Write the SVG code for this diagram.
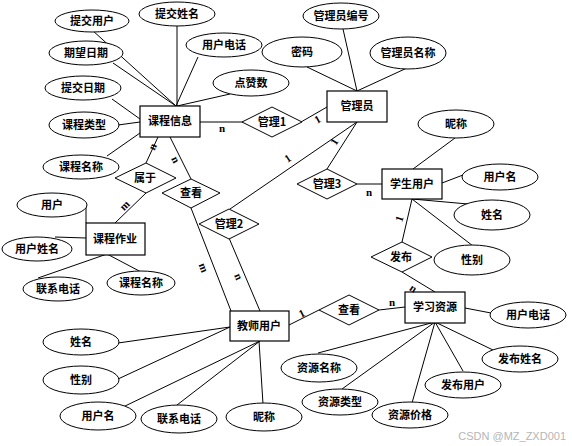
<svg xmlns="http://www.w3.org/2000/svg" width="572" height="446" viewBox="0 0 572 446">
<style>
.e{fill:#fff;stroke:#000;stroke-width:1}
.r{fill:#fff;stroke:#000;stroke-width:1.2}
.d{fill:#fff;stroke:#000;stroke-width:1}
.t{font-family:"Noto Sans CJK SC","Noto Sans",sans-serif;font-size:11px;font-weight:bold;text-anchor:middle;fill:#000}
.c{font-family:"Liberation Serif",serif;font-size:11px;font-weight:bold;text-anchor:middle;fill:#000}
#conn line{stroke:#000;stroke-width:1}
</style>
<rect width="572" height="446" fill="#fff"/>
<g id="conn">
<line x1="92" y1="30" x2="176" y2="106"/>
<line x1="177" y1="26" x2="177" y2="106"/>
<line x1="198" y1="57" x2="176" y2="106"/>
<line x1="230" y1="94" x2="177" y2="106"/>
<line x1="113" y1="63" x2="176" y2="106"/>
<line x1="112" y1="99" x2="140" y2="119"/>
<line x1="118" y1="125" x2="140" y2="122"/>
<line x1="107" y1="156" x2="140" y2="133"/>
<line x1="200" y1="122" x2="243" y2="122"/>
<line x1="301" y1="122" x2="327" y2="107"/>
<line x1="158" y1="137" x2="146" y2="163"/>
<line x1="170" y1="137" x2="191" y2="179"/>
<line x1="146" y1="193" x2="115" y2="223"/>
<line x1="191" y1="208" x2="231" y2="311"/>
<line x1="229" y1="238" x2="260" y2="311"/>
<line x1="357" y1="122" x2="230" y2="209"/>
<line x1="357" y1="122" x2="327" y2="169"/>
<line x1="343" y1="29" x2="357" y2="91"/>
<line x1="307" y1="67" x2="357" y2="91"/>
<line x1="407" y1="68" x2="357" y2="91"/>
<line x1="357" y1="184" x2="382" y2="184"/>
<line x1="455" y1="138" x2="413" y2="169"/>
<line x1="442" y1="183" x2="463" y2="175"/>
<line x1="412" y1="199" x2="468" y2="204"/>
<line x1="412" y1="199" x2="473" y2="246"/>
<line x1="412" y1="199" x2="402" y2="242"/>
<line x1="402" y1="272" x2="435" y2="292"/>
<line x1="379" y1="310" x2="405" y2="307"/>
<line x1="319" y1="310" x2="289" y2="325"/>
<line x1="465" y1="308" x2="491" y2="313"/>
<line x1="435" y1="322" x2="318" y2="353"/>
<line x1="435" y1="322" x2="493" y2="350"/>
<line x1="435" y1="322" x2="463" y2="371"/>
<line x1="435" y1="322" x2="342" y2="389"/>
<line x1="435" y1="322" x2="412" y2="403"/>
<line x1="118" y1="343" x2="230" y2="327"/>
<line x1="118" y1="379" x2="230" y2="327"/>
<line x1="123" y1="407" x2="260" y2="341"/>
<line x1="177" y1="405" x2="260" y2="341"/>
<line x1="263" y1="404" x2="259" y2="341"/>
<line x1="86" y1="205" x2="86" y2="223"/>
<line x1="55" y1="237" x2="86" y2="238"/>
<line x1="107" y1="254" x2="38" y2="278"/>
<line x1="107" y1="254" x2="143" y2="273"/>
</g>
<g id="e_tjyh"><ellipse class="e" cx="92" cy="21" rx="37" ry="11"/><text class="t" x="92" y="25">提交用户</text></g>
<g id="e_tjxm"><ellipse class="e" cx="177" cy="14" rx="38" ry="12"/><text class="t" x="177" y="18">提交姓名</text></g>
<g id="e_qwrq"><ellipse class="e" cx="86" cy="53" rx="37" ry="12"/><text class="t" x="86" y="57">期望日期</text></g>
<g id="e_yhdh1"><ellipse class="e" cx="224" cy="45" rx="38" ry="12"/><text class="t" x="224" y="49">用户电话</text></g>
<g id="e_tjrq"><ellipse class="e" cx="83" cy="88" rx="38" ry="12"/><text class="t" x="83" y="92">提交日期</text></g>
<g id="e_dzs"><ellipse class="e" cx="251" cy="83" rx="38" ry="13"/><text class="t" x="251" y="87">点赞数</text></g>
<g id="e_kclx"><ellipse class="e" cx="84" cy="125" rx="35" ry="13"/><text class="t" x="84" y="129">课程类型</text></g>
<g id="e_kcmc1"><ellipse class="e" cx="81" cy="167" rx="38" ry="12"/><text class="t" x="81" y="171">课程名称</text></g>
<g id="e_glybh"><ellipse class="e" cx="341" cy="16" rx="38" ry="13"/><text class="t" x="341" y="20">管理员编号</text></g>
<g id="e_mm"><ellipse class="e" cx="302" cy="52" rx="40" ry="15"/><text class="t" x="302" y="56">密码</text></g>
<g id="e_glymc"><ellipse class="e" cx="408" cy="53" rx="38" ry="16"/><text class="t" x="408" y="57">管理员名称</text></g>
<g id="e_nc1"><ellipse class="e" cx="456" cy="124" rx="38" ry="14"/><text class="t" x="456" y="128">昵称</text></g>
<g id="e_yhm1"><ellipse class="e" cx="500" cy="177" rx="38" ry="13"/><text class="t" x="500" y="181">用户名</text></g>
<g id="e_xm1"><ellipse class="e" cx="492" cy="215" rx="38" ry="15"/><text class="t" x="492" y="219">姓名</text></g>
<g id="e_xb1"><ellipse class="e" cx="472" cy="260" rx="38" ry="15"/><text class="t" x="472" y="264">性别</text></g>
<g id="e_yh"><ellipse class="e" cx="52" cy="205" rx="35" ry="12"/><text class="t" x="52" y="209">用户</text></g>
<g id="e_yhxm"><ellipse class="e" cx="37" cy="249" rx="35" ry="12"/><text class="t" x="37" y="253">用户姓名</text></g>
<g id="e_lxdh1"><ellipse class="e" cx="58" cy="289" rx="35" ry="12"/><text class="t" x="58" y="293">联系电话</text></g>
<g id="e_kcmc2"><ellipse class="e" cx="141" cy="283" rx="34" ry="12"/><text class="t" x="141" y="287">课程名称</text></g>
<g id="e_xm2"><ellipse class="e" cx="81" cy="342" rx="38" ry="13"/><text class="t" x="81" y="346">姓名</text></g>
<g id="e_xb2"><ellipse class="e" cx="81" cy="380" rx="38" ry="14"/><text class="t" x="81" y="384">性别</text></g>
<g id="e_yhm2"><ellipse class="e" cx="98" cy="416" rx="38" ry="14"/><text class="t" x="98" y="420">用户名</text></g>
<g id="e_lxdh2"><ellipse class="e" cx="179" cy="419" rx="38" ry="14"/><text class="t" x="179" y="423">联系电话</text></g>
<g id="e_nc2"><ellipse class="e" cx="264" cy="417" rx="38" ry="14"/><text class="t" x="264" y="421">昵称</text></g>
<g id="e_yhdh2"><ellipse class="e" cx="528" cy="315" rx="38" ry="13"/><text class="t" x="528" y="319">用户电话</text></g>
<g id="e_zymc"><ellipse class="e" cx="319" cy="368" rx="38" ry="14"/><text class="t" x="319" y="372">资源名称</text></g>
<g id="e_fbxm"><ellipse class="e" cx="520" cy="359" rx="38" ry="13"/><text class="t" x="520" y="363">发布姓名</text></g>
<g id="e_fbyh"><ellipse class="e" cx="463" cy="385" rx="38" ry="13"/><text class="t" x="463" y="389">发布用户</text></g>
<g id="e_zylx"><ellipse class="e" cx="340" cy="402" rx="38" ry="13"/><text class="t" x="340" y="406">资源类型</text></g>
<g id="e_zyjg"><ellipse class="e" cx="410" cy="415" rx="38" ry="13"/><text class="t" x="410" y="419">资源价格</text></g>
<g id="kcxx"><rect class="r" x="140" y="106" width="60" height="31"/><text class="t" x="170" y="125">课程信息</text></g>
<g id="gly"><rect class="r" x="327" y="91" width="60" height="31"/><text class="t" x="357" y="110">管理员</text></g>
<g id="xsyh"><rect class="r" x="382" y="169" width="60" height="30"/><text class="t" x="412" y="188">学生用户</text></g>
<g id="kczy"><rect class="r" x="86" y="223" width="59" height="32"/><text class="t" x="115" y="243">课程作业</text></g>
<g id="jsyh"><rect class="r" x="230" y="311" width="59" height="30"/><text class="t" x="259" y="330">教师用户</text></g>
<g id="xxzy"><rect class="r" x="405" y="292" width="60" height="31"/><text class="t" x="435" y="311">学习资源</text></g>
<g id="gl1"><polygon class="d" points="242,122 272,107 302,122 272,137"/><text class="t" x="272" y="126">管理1</text></g>
<g id="sy"><polygon class="d" points="115,178 146,163 176,178 146,193"/><text class="t" x="145" y="182">属于</text></g>
<g id="ck1"><polygon class="d" points="162,193 191,179 220,193 191,208"/><text class="t" x="191" y="197">查看</text></g>
<g id="gl2"><polygon class="d" points="199,224 229,209 259,224 229,239"/><text class="t" x="229" y="228">管理2</text></g>
<g id="gl3"><polygon class="d" points="297,184 327,169 357,184 327,199"/><text class="t" x="327" y="188">管理3</text></g>
<g id="fb"><polygon class="d" points="371,257 402,242 432,257 402,272"/><text class="t" x="401" y="261">发布</text></g>
<g id="ck2"><polygon class="d" points="319,310 349,295 379,310 349,325"/><text class="t" x="349" y="314">查看</text></g>
<g id="labels">
<text class="c" x="222" y="132">n</text>
<text class="c" transform="translate(153,147) rotate(-65)" y="3">n</text>
<text class="c" transform="translate(175,160) rotate(64)" y="3">n</text>
<text class="c" transform="translate(125,206) rotate(-45)" y="3">m</text>
<text class="c" transform="translate(203,268) rotate(69)" y="3">m</text>
<text class="c" transform="translate(238,277) rotate(67)" y="3">n</text>
<text class="c" transform="translate(318,120) rotate(-30)" y="3">1</text>
<text class="c" transform="translate(288,159) rotate(-34)" y="3">1</text>
<text class="c" transform="translate(335,142) rotate(-58)" y="3">1</text>
<text class="c" x="369" y="196">n</text>
<text class="c" transform="translate(400,219) rotate(-72)" y="3">1</text>
<text class="c" transform="translate(413,289) rotate(33)" y="3">n</text>
<text class="c" transform="translate(302,314) rotate(-27)" y="3">1</text>
<text class="c" x="392" y="306">n</text>
</g>
<text x="566" y="440" font-family="Liberation Sans,sans-serif" font-size="11" fill="#b5b5b5" text-anchor="end">CSDN @MZ_ZXD001</text>
</svg>
